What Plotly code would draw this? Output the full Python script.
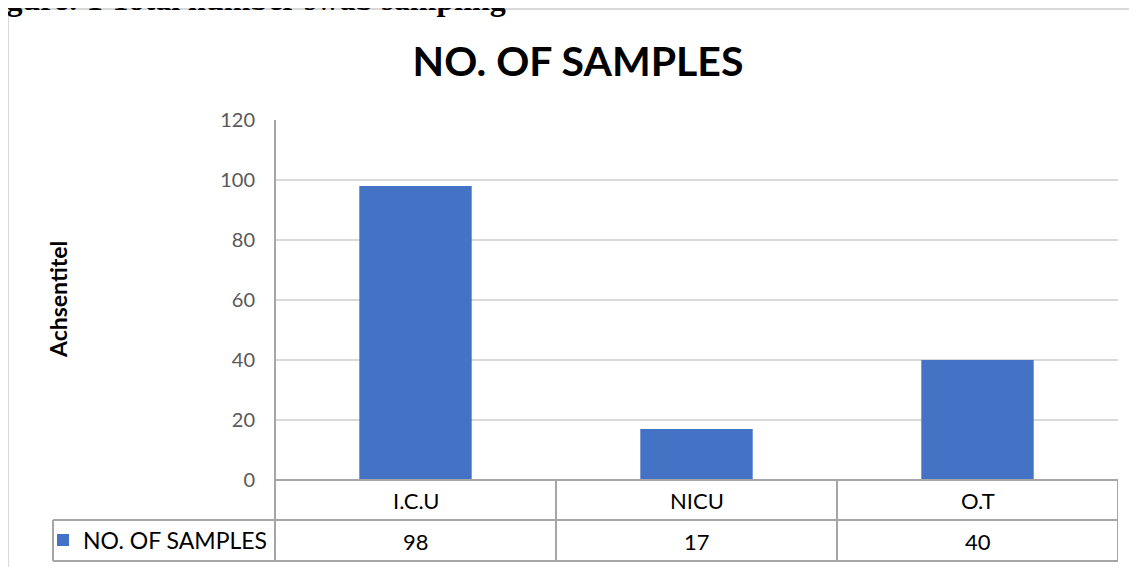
import plotly.graph_objects as go

categories = ["I.C.U", "NICU", "O.T"]
samples = [98, 17, 40]
series_name = "NO. OF SAMPLES"
y_ticks = [0, 20, 40, 60, 80, 100, 120]
chart_title = "NO. OF SAMPLES"
axis_title = "Achsentitel"
caption = "Figure: 1 Total number swab sampling"

W, H = 1137, 567
OFF = 8  # page body margin of the html page
# plot area in screen (reference) pixels
SL, SR, ST, SB = 275, 1118, 120, 480
L, R, T, B = SL - OFF, SR - OFF, ST - OFF, SB - OFF
PW, PH = R - L, B - T


def px(x):
    return (x - SL) / PW


def py(y):
    return (SB - y) / PH


FONT = "Lato"
BLUE = "#4472C4"
GRID = "#d9d9d9"
LINE = "#a6a6a6"

fig = go.Figure()
fig.add_trace(go.Bar(x=categories, y=samples, name=series_name,
                     marker=dict(color=BLUE, line=dict(width=0)),
                     showlegend=True))

shapes = []
# outer frame (top and left)
shapes.append(dict(type="line", xref="paper", yref="paper", x0=px(8), x1=px(1160), y0=py(9), y1=py(9),
                   line=dict(color=GRID, width=2)))
shapes.append(dict(type="line", xref="paper", yref="paper", x0=px(8), x1=px(8), y0=py(9), y1=py(590),
                   line=dict(color=GRID, width=2)))
# data table horizontal lines
for yy, x0 in [(480, 275), (520, 53), (561, 53)]:
    shapes.append(dict(type="line", xref="paper", yref="paper", x0=px(x0), x1=1, y0=py(yy), y1=py(yy),
                       line=dict(color=LINE, width=2)))
# vertical lines
shapes.append(dict(type="line", xref="paper", yref="paper", x0=0, x1=0, y0=1, y1=py(561),
                   line=dict(color=LINE, width=2)))
shapes.append(dict(type="line", xref="paper", yref="paper", x0=px(53), x1=px(53), y0=py(520), y1=py(561),
                   line=dict(color=LINE, width=2)))
n = len(categories)
for i in range(1, n + 1):
    shapes.append(dict(type="line", xref="x", yref="paper", x0=i - 0.5, x1=i - 0.5, y0=0, y1=py(561),
                       line=dict(color=LINE, width=2)))

annotations = []
for c, v in zip(categories, samples):
    annotations.append(dict(x=c, y=py(500), xref="x", yref="paper", text=c, showarrow=False,
                            font=dict(family=FONT, size=22, color="#000000"), xanchor="center", yanchor="middle"))
    annotations.append(dict(x=c, y=py(541), xref="x", yref="paper", text=str(v), showarrow=False,
                            font=dict(family=FONT, size=22, color="#000000"), xanchor="center", yanchor="middle"))
annotations.append(dict(x=px(58), y=0.5, xref="paper", yref="paper", text="<b>" + axis_title + "</b>",
                        textangle=-90, showarrow=False, font=dict(family=FONT, size=23, color="#000000"),
                        xanchor="center", yanchor="middle"))
annotations.append(dict(x=px(-24), y=py(19), xref="paper", yref="paper", text="<b>" + caption + "</b>",
                        showarrow=False, font=dict(family="Liberation Serif", size=32, color="#000000"),
                        xanchor="left", yanchor="bottom"))

fig.update_layout(
    width=W, height=H,
    margin=dict(l=L, r=W - R, t=T, b=H - B, pad=0),
    paper_bgcolor="white", plot_bgcolor="white",
    title=dict(text="<b>" + chart_title + "</b>", x=px(578), xref="paper", xanchor="center",
               y=1 - (62 - OFF) / H, yanchor="middle", font=dict(family=FONT, size=41, color="#000000")),
    bargap=0.6,
    xaxis=dict(range=[-0.5, n - 0.5], showticklabels=False, showgrid=False, zeroline=False,
               showline=False, ticks=""),
    yaxis=dict(range=[0, 120], tickvals=y_ticks, showgrid=True, gridcolor=GRID, gridwidth=1.5,
               zeroline=False, showline=False, ticks="", ticklabelstandoff=19,
               tickfont=dict(family=FONT, size=20, color="#595959")),
    legend=dict(x=px(43), y=py(540), xanchor="left", yanchor="middle", orientation="h",
                font=dict(family=FONT, size=23, color="#000000"), bgcolor="rgba(0,0,0,0)",
                itemwidth=30, tracegroupgap=0),
    shapes=shapes, annotations=annotations,
)

fig.write_html("out.html")
